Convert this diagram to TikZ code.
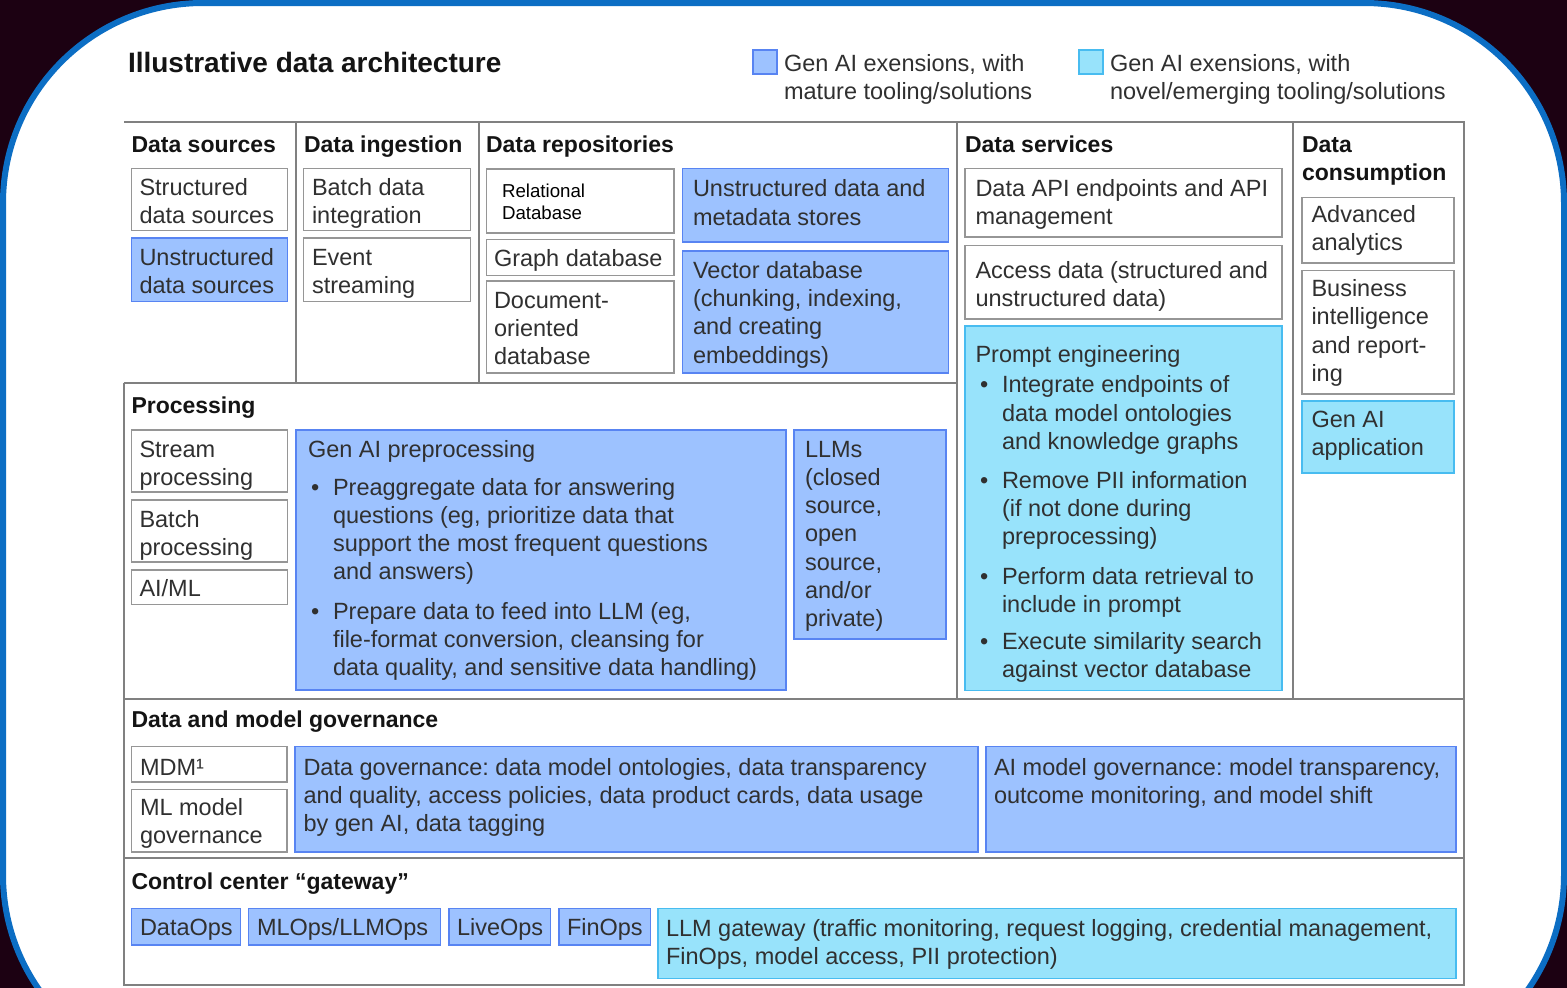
\documentclass[tikz,border=0pt]{standalone}
\usepackage{fontspec}
\setmainfont{Liberation Sans}
\frenchspacing

\definecolor{bgdark}{RGB}{28,1,18}
\definecolor{frameblue}{RGB}{12,110,196}
\definecolor{framegray}{RGB}{128,128,128}
\definecolor{boxgray}{RGB}{150,150,150}
\definecolor{bluefill}{RGB}{157,194,255}
\definecolor{bluedge}{RGB}{88,132,242}
\definecolor{cyanfill}{RGB}{152,227,251}
\definecolor{cyanedge}{RGB}{72,188,240}
\definecolor{txtcol}{RGB}{48,48,48}
\definecolor{hdrcol}{RGB}{20,20,20}

\newcommand\bodyfont{\fontsize{23.5}{28.3}\selectfont}
\newcommand\hdrfont{\fontsize{23}{28.3}\selectfont\bfseries}
\newcommand\titlefont{\fontsize{28}{34}\selectfont\bfseries}
\newcommand\smallfont{\fontsize{18.7}{22.6}\selectfont}
% multi-line text whose baseline is that of its first line
\newcommand\ml[1]{\begin{tabular}[t]{@{}l@{}}#1\end{tabular}}
% \cell{style}{name}{x1}{y1}{x2}{y2}: a box from its top-left to bottom-right corner
\newcommand\cell[6]{\node[#1, anchor=north west, minimum width={(#5)-(#3)}, minimum height={(#6)-(#4)}] (#2) at (#3,#4) {};}

\begin{document}
\begin{tikzpicture}[x=1pt,y=-1pt,
  every node/.style={inner sep=0pt, outer sep=0pt},
  gbox/.style={draw=boxgray, line width=1.6pt, fill=white},
  bbox/.style={draw=bluedge, line width=1.6pt, fill=bluefill},
  cbox/.style={draw=cyanedge, line width=1.6pt, fill=cyanfill},
  txt/.style={anchor=base west, font=\bodyfont, text=txtcol},
  hdr/.style={anchor=base west, font=\hdrfont, text=hdrcol},
  smalltxt/.style={anchor=base west, font=\smallfont, text=black},
  grid/.style={draw=framegray, line width=2pt},
]
\useasboundingbox (0,0) rectangle (1567,988);

% dark backdrop and the white card with its blue rim
\fill[bgdark] (0,0) rectangle (1567,988);
\begin{scope}
  \clip (0,0) rectangle (1567,988);
  \draw[draw=frameblue, line width=6pt, fill=white, rounded corners=200pt] (3,3) rectangle (1564,1075);
\end{scope}

% title and legend
\node[anchor=base west, font=\titlefont, text=hdrcol] (title) at (128,72) {Illustrative data architecture};
\cell{bbox}{legA}{753}{50}{777}{74}
\node[txt] (legAt) at (784,71) {\ml{Gen AI exensions, with\\mature tooling/solutions}};
\cell{cbox}{legB}{1079}{50}{1103}{74}
\node[txt] (legBt) at (1110,71) {\ml{Gen AI exensions, with\\novel/emerging tooling/solutions}};

% frame of the architecture table
\draw[grid] (123.5,383) -- (123.5,985) -- (1464,985) -- (1464,122) -- (123.5,122);
\draw[grid] (123.5,383) -- (957,383);
\draw[grid] (296,122) -- (296,383);
\draw[grid] (479,122) -- (479,383);
\draw[grid] (957,122) -- (957,699);
\draw[grid] (1293,122) -- (1293,699);
\draw[grid] (123.5,699) -- (1464,699);
\draw[grid] (123.5,858) -- (1464,858);

% column headers
\node[hdr] (hsrc) at (131.5,152) {Data sources};
\node[hdr] (hing) at (304,152) {Data ingestion};
\node[hdr] (hrep) at (486,152) {Data repositories};
\node[hdr] (hsvc) at (965,152) {Data services};
\node[hdr] (hcon) at (1302,152) {\ml{Data\\consumption}};

% data sources
\cell{gbox}{src1}{131.5}{168.5}{287.5}{230.5}
\node[txt] (src1t) at (139.5,195.5) {\ml{Structured\\data sources}};
\cell{bbox}{src2}{131.5}{238}{287.5}{301.5}
\node[txt] (src2t) at (139.5,265) {\ml{Unstructured\\data sources}};

% data ingestion
\cell{gbox}{ing1}{303.5}{168.5}{470.5}{230.5}
\node[txt] (ing1t) at (312,195.5) {\ml{Batch data\\integration}};
\cell{gbox}{ing2}{303.5}{238}{470.5}{301.5}
\node[txt] (ing2t) at (312,265) {\ml{Event\\streaming}};

% data repositories
\cell{gbox}{rep1}{486.5}{169}{674}{233}
\node[smalltxt] (rep1t) at (502,197) {\ml{Relational\\Database}};
\cell{gbox}{rep2}{486.5}{239.5}{674}{275.5}
\node[txt] (rep2t) at (494,266) {Graph database};
\cell{gbox}{rep3}{486.5}{281}{674}{373}
\node[txt] (rep3t) at (494,308.3) {\ml{Document-\\oriented\\database}};
\cell{bbox}{rep4}{682.5}{168.5}{948.5}{242}
\node[txt] (rep4t) at (693,196.7) {\ml{Unstructured data and\\metadata stores}};
\cell{bbox}{rep5}{682.5}{251}{948.5}{373}
\node[txt] (rep5t) at (693,278.3) {\ml{Vector database\\(chunking, indexing,\\and creating\\embeddings)}};

% data services
\cell{gbox}{svc1}{965}{168.5}{1282}{237}
\node[txt] (svc1t) at (975.5,196) {\ml{Data API endpoints and API\\management}};
\cell{gbox}{svc2}{965}{245.5}{1282}{319}
\node[txt] (svc2t) at (975.5,278.5) {\ml{Access data (structured and\\unstructured data)}};
\cell{cbox}{svc3}{965}{326}{1282}{690.5}
\node[txt] (svc3t) at (975.5,362) {Prompt engineering};
\node[txt] (pb1) at (980,392.8) {•};
\node[txt] (pe1) at (1002,392.8) {\ml{Integrate endpoints of\\data model ontologies\\and knowledge graphs}};
\node[txt] (pb2) at (980,488) {•};
\node[txt] (pe2) at (1002,488) {\ml{Remove PII information\\(if not done during\\preprocessing)}};
\node[txt] (pb3) at (980,584) {•};
\node[txt] (pe3) at (1002,584) {\ml{Perform data retrieval to\\include in prompt}};
\node[txt] (pb4) at (980,649) {•};
\node[txt] (pe4) at (1002,649) {\ml{Execute similarity search\\against vector database}};

% data consumption
\cell{gbox}{con1}{1302}{197.5}{1454}{263}
\node[txt] (con1t) at (1311.5,222.5) {\ml{Advanced\\analytics}};
\cell{gbox}{con2}{1302}{270.5}{1454}{394}
\node[txt] (con2t) at (1311.5,296.5) {\ml{Business\\intelligence\\and report-\\ing}};
\cell{cbox}{con3}{1302}{401}{1454}{473}
\node[txt] (con3t) at (1311.5,427.5) {\ml{Gen AI\\application}};

% processing
\node[hdr] (hproc) at (131.5,413) {Processing};
\cell{gbox}{proc1}{131.5}{430}{287.5}{492}
\node[txt] (proc1t) at (139.5,457) {\ml{Stream\\processing}};
\cell{gbox}{proc2}{131.5}{500}{287.5}{562}
\node[txt] (proc2t) at (139.5,527) {\ml{Batch\\processing}};
\cell{gbox}{proc3}{131.5}{570}{287.5}{604.5}
\node[txt] (proc3t) at (139.5,596) {AI/ML};
\cell{bbox}{proc4}{296}{430}{786}{690}
\node[txt] (proc4t) at (308,457) {Gen AI preprocessing};
\node[txt] (gb1) at (311,495) {•};
\node[txt] (ge1) at (333,495) {\ml{Preaggregate data for answering\\questions (eg, prioritize data that\\support the most frequent questions\\and answers)}};
\node[txt] (gb2) at (311,619) {•};
\node[txt] (ge2) at (333,619) {\ml{Prepare data to feed into LLM (eg,\\file-format conversion, cleansing for\\data quality, and sensitive data handling)}};
\cell{bbox}{proc5}{794}{430}{946}{639}
\node[txt] (proc5t) at (805,457) {\ml{LLMs\\(closed\\source,\\open\\source,\\and/or\\private)}};

% data and model governance
\node[hdr] (hgov) at (131.5,727) {Data and model governance};
\cell{gbox}{gov1}{131.5}{746.5}{287}{782}
\node[txt] (gov1t) at (140,775) {MDM¹};
\cell{gbox}{gov2}{131.5}{789.5}{287}{852}
\node[txt] (gov2t) at (140,815) {\ml{ML model\\governance}};
\cell{bbox}{gov3}{295}{746.5}{978}{852}
\node[txt] (gov3t) at (303.5,775) {\ml{Data governance: data model ontologies, data transparency\\and quality, access policies, data product cards, data usage\\by gen AI, data tagging}};
\cell{bbox}{gov4}{986}{746.5}{1456}{852}
\node[txt] (gov4t) at (994,775) {\ml{AI model governance: model transparency,\\outcome monitoring, and model shift}};

% control center
\node[hdr] (hctl) at (131.5,889.5) {Control center “gateway”};
\cell{bbox}{ctl1}{131.5}{908.5}{240.5}{945}
\node[txt] (ctl1t) at (140,935) {DataOps};
\cell{bbox}{ctl2}{248.5}{908.5}{440.5}{945}
\node[txt] (ctl2t) at (257,935) {MLOps/LLMOps};
\cell{bbox}{ctl3}{449}{908.5}{550.5}{945}
\node[txt] (ctl3t) at (457,935) {LiveOps};
\cell{bbox}{ctl4}{559}{908.5}{650.5}{945}
\node[txt] (ctl4t) at (567,935) {FinOps};
\cell{cbox}{ctl5}{658}{908.5}{1456}{978.5}
\node[txt] (ctl5t) at (666,936) {\ml{LLM gateway (traffic monitoring, request logging, credential management,\\FinOps, model access, PII protection)}};
\end{tikzpicture}
\end{document}
